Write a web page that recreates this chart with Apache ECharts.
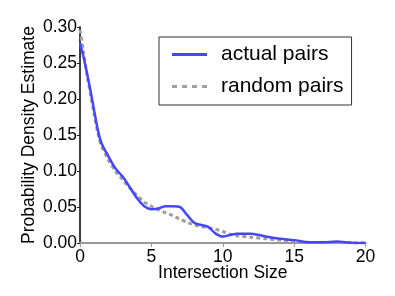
<!DOCTYPE html>
<html>
<head>
<meta charset="utf-8">
<script src="https://cdn.jsdelivr.net/npm/echarts@6/dist/echarts.min.js"></script>
<style>html,body{margin:0;padding:0;background:#fff}#c{width:395px;height:296px}</style>
</head>
<body>
<div id="c"></div>
<script>
const xs = [0,0.25,0.5,0.75,1,1.25,1.5,2,2.5,3,3.5,4,4.5,5,5.5,6,6.5,7,7.5,8,8.5,9,9.5,10,10.5,11,12,13,14,15,16,17,18,19,20];
const actualPairs = [0.278,0.258,0.235,0.21,0.183,0.157,0.139,0.12,0.103,0.092,0.077,0.062,0.051,0.047,0.048,0.051,0.051,0.050,0.039,0.028,0.025,0.022,0.013,0.009,0.011,0.013,0.013,0.009,0.006,0.004,0.001,0.001,0.002,0.0005,0];
const randomPairs = [0.296,0.265,0.232,0.205,0.178,0.153,0.135,0.115,0.099,0.088,0.076,0.066,0.057,0.051,0.046,0.042,0.038,0.033,0.029,0.025,0.023,0.021,0.019,0.016,0.012,0.010,0.008,0.006,0.004,0.003,0.001,0.0005,0.0003,0.0002,0];
const xTicks = {min:0,max:20,interval:5};
const yTicks = {min:0,max:0.30,interval:0.05};

const font = '"Liberation Sans", Arial, sans-serif';
const chart = echarts.init(document.getElementById('c'), null, {renderer:'canvas'});
const zip = (a) => xs.map((x,i)=>[x,a[i]]);
chart.setOption({
  animation:false,
  grid:{left:80,right:29.5,top:27,bottom:53},
  legend:{
    orient:'vertical', left:159, top:37,
    backgroundColor:'#fff', borderColor:'#333', borderWidth:1, borderRadius:0,
    padding:[7,8,8,13], itemGap:11, itemWidth:35, itemHeight:3, symbolKeepAspect:false,
    textStyle:{fontFamily:font,fontSize:21,color:'#000',padding:[0,0,0,9]},
    data:[
      {name:'actual pairs',icon:'path://M0 0h35v3h-35z'},
      {name:'random pairs',icon:'path://M0 0h5v3h-5zM10 0h5v3h-5zM20 0h5v3h-5zM30 0h5v3h-5z'}
    ]
  },
  xAxis:[
    {type:'value',position:'bottom',min:xTicks.min,max:xTicks.max,interval:xTicks.interval,
     name:'Intersection Size',nameLocation:'middle',nameGap:21,nameMoveOverlap:false,
     nameTextStyle:{fontFamily:font,fontSize:17.5,color:'#000'},
     axisLine:{lineStyle:{color:'#999',width:2}},axisTick:{show:false},
     axisLabel:{fontFamily:font,fontSize:17.5,color:'#000',margin:5},splitLine:{show:false}},
    {type:'value',position:'top',min:xTicks.min,max:xTicks.max,interval:xTicks.interval,
     axisLine:{lineStyle:{color:'#999',width:2}},axisTick:{inside:true,length:4,lineStyle:{color:'#999'}},
     axisLabel:{show:false},splitLine:{show:false}}
  ],
  yAxis:[
    {type:'value',position:'left',min:yTicks.min,max:yTicks.max,interval:yTicks.interval,
     name:'Probability Density Estimate',nameLocation:'middle',nameGap:42,nameMoveOverlap:false,
     nameTextStyle:{fontFamily:font,fontSize:17.5,color:'#000'},
     axisLine:{show:true,lineStyle:{color:'#999',width:2}},axisTick:{show:false},
     axisLabel:{fontFamily:font,fontSize:17.5,color:'#000',margin:3,formatter:v=>v.toFixed(2)},splitLine:{show:false}},
    {type:'value',position:'right',min:yTicks.min,max:yTicks.max,interval:yTicks.interval,
     axisLine:{show:true,lineStyle:{color:'#222',width:1.5}},axisTick:{inside:true,length:3,lineStyle:{color:'#222'}},
     axisLabel:{show:false},splitLine:{show:false}}
  ],
  series:[
    {name:'actual pairs',type:'line',xAxisIndex:0,yAxisIndex:0,smooth:0.3,showSymbol:false,symbol:'none',z:3,
     lineStyle:{color:'#4646fa',width:2.5},itemStyle:{color:'#4646fa'},data:zip(actualPairs)},
    {name:'random pairs',type:'line',xAxisIndex:0,yAxisIndex:0,smooth:0.3,showSymbol:false,symbol:'none',z:2,
     lineStyle:{color:'#a0a0a0',width:3,type:[4,3]},itemStyle:{color:'#a0a0a0'},data:zip(randomPairs)}
  ]
});
</script>
</body>
</html>
